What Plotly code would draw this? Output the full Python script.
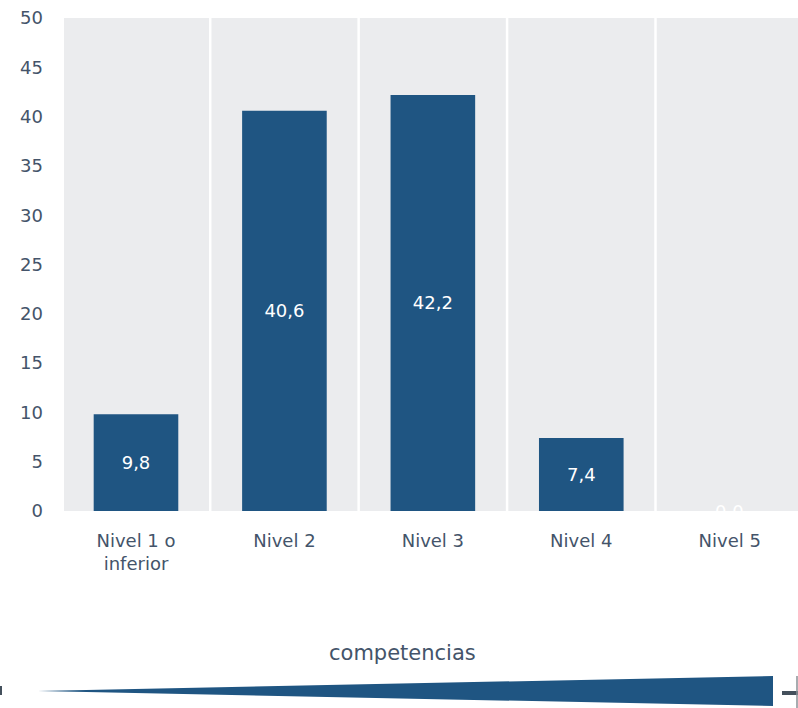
import plotly.graph_objects as go

# Distribution of students by competency level (%)
categories = ["Nivel 1 o<br>inferior", "Nivel 2", "Nivel 3", "Nivel 4", "Nivel 5"]
values = [9.8, 40.6, 42.2, 7.4, 0.0]
y_ticks = [0, 5, 10, 15, 20, 25, 30, 35, 40, 45, 50]

BAR = "#1F5582"
BG = "#EBECEE"
TXT = "#44546A"
FONT = "DejaVu Sans"

labels = [f"{v:.1f}".replace(".", ",") for v in values]
xs = list(range(len(categories)))

fig = go.Figure()
fig.add_trace(go.Bar(
    x=xs, y=values, width=0.57,
    marker=dict(color=BAR, line=dict(width=0)),
    text=labels, textposition="inside", insidetextanchor="middle",
    textfont=dict(color="white", size=18, family=FONT),
    textangle=0, cliponaxis=False, hoverinfo="skip",
))

# zero-height bar: its label sits on the baseline
for x, v, t in zip(xs, values, labels):
    if v == 0:
        fig.add_annotation(x=x, y=v, text=t, showarrow=False, yanchor="middle",
                           font=dict(color="white", size=18, family=FONT))

shapes = []
# white separators between categories
for i in range(len(categories) - 1):
    shapes.append(dict(type="line", xref="x", yref="paper", x0=i + 0.5, x1=i + 0.5,
                       y0=0, y1=1, line=dict(color="white", width=2.5), layer="above"))

# competency wedge below the chart (paper coords)
W, H = 734.0, 493.0
def px(x):
    return (x - 64) / W
def py(y):
    return (511 - y) / H

shapes.append(dict(type="path", xref="paper", yref="paper",
                   path=f"M {px(38)},{py(691)} L {px(773)},{py(676)} L {px(773)},{py(706)} Z",
                   fillcolor=BAR, line=dict(width=0)))
shapes.append(dict(type="line", xref="paper", yref="paper", x0=px(782), x1=px(798),
                   y0=py(693), y1=py(693), line=dict(color="#44505C", width=4)))
shapes.append(dict(type="line", xref="paper", yref="paper", x0=px(797), x1=px(797),
                   y0=py(676), y1=py(708), line=dict(color="#8A9096", width=1.5)))
shapes.append(dict(type="line", xref="paper", yref="paper", x0=px(1), x1=px(1),
                   y0=py(686), y1=py(695), line=dict(color="#44505C", width=2)))

fig.add_annotation(xref="paper", yref="paper", x=px(402), y=py(653), text="competencias",
                   showarrow=False, xanchor="center", yanchor="middle",
                   font=dict(color=TXT, size=21, family=FONT))

fig.update_layout(
    width=798, height=708,
    margin=dict(l=64, r=0, t=18, b=197),
    paper_bgcolor="white", plot_bgcolor=BG,
    showlegend=False, shapes=shapes,
    font=dict(family=FONT, color=TXT),
)
fig.update_xaxes(
    tickmode="array", tickvals=xs, ticktext=categories,
    range=[-0.485, 4.46], showgrid=False, zeroline=False, showline=False,
    tickfont=dict(size=18, color=TXT, family=FONT), ticks="", ticklabelstandoff=17,
)
fig.update_yaxes(
    range=[0, 50], tickmode="array", tickvals=y_ticks,
    showgrid=False, zeroline=False, showline=False,
    tickfont=dict(size=18, color=TXT, family=FONT), ticks="", ticklabelstandoff=20,
)

fig.write_html("out.html")
